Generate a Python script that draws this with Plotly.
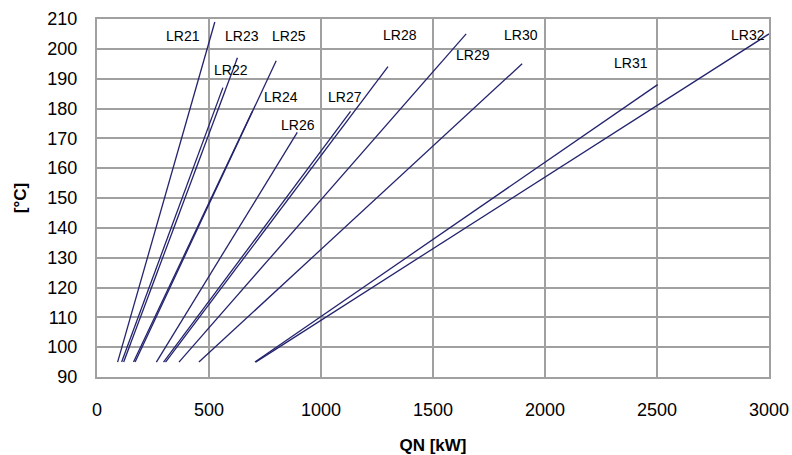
import plotly.graph_objects as go

# ---- data ----
series_names = ["LR21", "LR22", "LR23", "LR24", "LR25", "LR26",
                "LR27", "LR28", "LR29", "LR30", "LR31", "LR32"]
qn_start = [92, 110, 119, 163, 170, 265, 297, 306, 366, 455, 705, 708]
qn_end = [526, 562, 627, 693, 800, 894, 1132, 1299, 1648, 1898, 2503, 3000]
temp_start = [95, 95, 95, 95, 95, 95, 95, 95, 95, 95, 95, 95]
temp_end = [209, 187, 197, 179, 196, 172, 179, 194, 205, 195, 188, 205]

# label anchor points (data coords)
label_q = [385, 599, 648, 822, 858, 898, 1108, 1353, 1679, 1894, 2384, 2907]
label_t = [204.3, 193, 204.3, 184, 204.3, 174.5, 184, 204.6, 198, 204.6, 195.3, 204.6]

x_ticks = [0, 500, 1000, 1500, 2000, 2500, 3000]
y_ticks = [90, 100, 110, 120, 130, 140, 150, 160, 170, 180, 190, 200, 210]

LINE_COLOR = "#23236e"
GRID = "#a0a0a0"
FONT = "Liberation Sans, Arial, sans-serif"

fig = go.Figure()
for name, x0, x1, y0, y1 in zip(series_names, qn_start, qn_end, temp_start, temp_end):
    fig.add_trace(go.Scatter(x=[x0, x1], y=[y0, y1], mode="lines", name=name,
                             line=dict(color=LINE_COLOR, width=1.3),
                             showlegend=False, hoverinfo="skip"))

for name, lx, ly in zip(series_names, label_q, label_t):
    fig.add_annotation(x=lx, y=ly, text=name, showarrow=False,
                       xref="x", yref="y", xanchor="center", yanchor="middle",
                       font=dict(family=FONT, size=14, color="#000000"))

fig.update_layout(
    width=792, height=455,
    margin=dict(l=97, r=23, t=19, b=78),
    paper_bgcolor="white", plot_bgcolor="white",
    font=dict(family=FONT, color="#000000"),
    showlegend=False,
)
fig.update_xaxes(range=[0, 3000], tickvals=x_ticks, ticktext=[str(v) for v in x_ticks],
                 showgrid=True, gridcolor=GRID, gridwidth=2, automargin=False,
                 showline=True, linecolor=GRID, linewidth=2, mirror=True,
                 zeroline=False, ticks="", tickfont=dict(size=18, family=FONT),
                 ticklabelstandoff=15,
                 title=dict(text="<b>QN [kW]</b>", font=dict(size=17, family=FONT), standoff=24))
fig.update_yaxes(range=[90, 210], tickvals=y_ticks, ticktext=[str(v) for v in y_ticks],
                 showgrid=True, gridcolor=GRID, gridwidth=2, automargin=False,
                 showline=True, linecolor=GRID, linewidth=2, mirror=True,
                 zeroline=False, ticks="", tickfont=dict(size=18, family=FONT),
                 ticklabelstandoff=14,
                 title=dict(text="<b>[°C]</b>", font=dict(size=17, family=FONT), standoff=16))

# remove the default 8px page margin so the 792x455 figure fills the window exactly
fig.write_html("out.html",
               config={"displayModeBar": False},
               post_script="document.body.style.margin='0';document.body.style.overflow='hidden';")
